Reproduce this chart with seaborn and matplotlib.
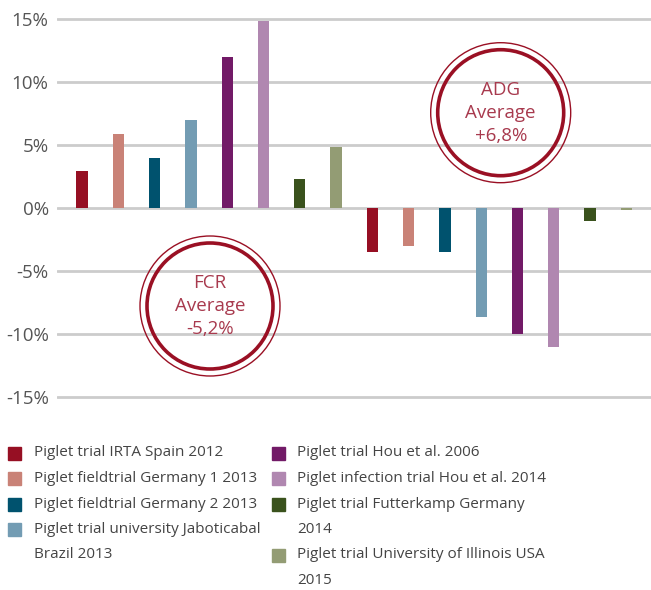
import numpy as np
import pandas as pd
import matplotlib
matplotlib.use("Agg")
import matplotlib.pyplot as plt
from matplotlib import font_manager
from matplotlib.patches import Ellipse, Rectangle
import seaborn as sns

trials = [
    "Piglet trial IRTA Spain 2012",
    "Piglet fieldtrial Germany 1 2013",
    "Piglet fieldtrial Germany 2 2013",
    "Piglet trial university Jaboticabal\nBrazil 2013",
    "Piglet trial Hou et al. 2006",
    "Piglet infection trial Hou et al. 2014",
    "Piglet trial Futterkamp Germany\n2014",
    "Piglet trial University of Illinois USA\n2015",
]
colors = ["#960F23", "#C98277", "#00526E", "#739CB3",
          "#721A67", "#B087B0", "#3A521D", "#939C74"]
adg = [3.0, 5.9, 4.0, 7.0, 12.0, 14.9, 2.3, 4.9]
fcr = [-3.5, -3.0, -3.5, -8.6, -10.0, -11.0, -1.0, -0.1]
yticks = [-15, -10, -5, 0, 5, 10, 15]
adg_label = "ADG\nAverage\n+6,8%"
fcr_label = "FCR\nAverage\n-5,2%"

sns.set_style("white")
plt.rcParams["font.family"] = ["Open Sans", "DejaVu Sans"]

# narrow face for the legend if one is around
installed = {f.name for f in font_manager.fontManager.ttflist}
legend_font = next((f for f in ["Liberation Sans Narrow", "DejaVu Sans Condensed"]
                    if f in installed), "Open Sans")
legend_size = 12.5 if legend_font == "Liberation Sans Narrow" else 11

df = pd.DataFrame({
    "slot": [f"ADG {i}" for i in range(8)] + [f"FCR {i}" for i in range(8)],
    "trial": trials + trials,
    "value": adg + fcr,
})

W, H = 651, 590
fig = plt.figure(figsize=(W / 100, H / 100), dpi=100)
ax = fig.add_axes([57 / W, 1 - 399.8 / H, 594 / W, 383 / H])

sns.barplot(data=df, x="slot", y="value", hue="trial",
            palette=dict(zip(trials, colors)), dodge=False, width=0.31,
            legend=False, saturation=1, linewidth=0, ax=ax)

ax.set_ylim(-15.2, 15.2)
ax.set_xlim(-0.69, 15.68)
ax.set_yticks(yticks)
ax.set_yticklabels([f"{t}%" for t in yticks], fontsize=13.5, color="#555555")
ax.tick_params(axis="y", length=0, pad=6)
ax.set_xticks([])
ax.set_xlabel("")
ax.set_ylabel("")
ax.yaxis.grid(True, color="#cccccc", lw=2)
ax.set_axisbelow(True)
for s in ax.spines.values():
    s.set_visible(False)

# average badges
ring = "#9A1024"
for (cx, cy), txt in [((500.7, 112.7), adg_label), ((210, 306), fcr_label)]:
    fx, fy = cx / W, 1 - cy / H
    fig.patches.append(Ellipse((fx, fy), 140 / W, 140 / H, fill=False,
                               ec=ring, lw=1, transform=fig.transFigure))
    fig.patches.append(Ellipse((fx, fy), 126 / W, 126 / H, fill=False,
                               ec=ring, lw=2.6, transform=fig.transFigure))
    fig.text(fx, fy, txt, ha="center", va="center", fontsize=13.5,
             color="#A83A4E", linespacing=1.35)

# legend
line_h = 25.5
cols = [(8, 34, [0, 1, 2, 3]), (272, 297, [4, 5, 6, 7])]
for sq_x, tx, idx in cols:
    y = 453
    for i in idx:
        fig.patches.append(Rectangle((sq_x / W, 1 - (y + 6.5) / H), 13 / W, 13 / H,
                                     color=colors[i], transform=fig.transFigure))
        for k, part in enumerate(trials[i].split("\n")):
            fig.text(tx / W, 1 - (y + k * line_h) / H, part, ha="left",
                     va="center", fontsize=legend_size, color="#444444",
                     family=[legend_font, "DejaVu Sans"])
        y += line_h * len(trials[i].split("\n"))

fig.savefig("out.png", dpi=100)
